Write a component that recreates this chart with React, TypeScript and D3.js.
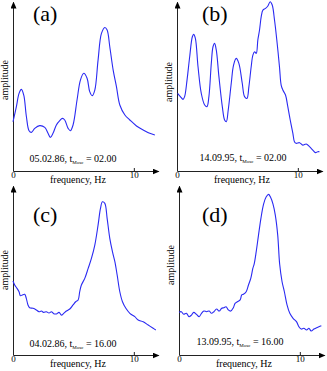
import React, { useEffect, useRef } from "react";
import * as d3 from "d3";

const panelLetters = ["(a)", "(b)", "(c)", "(d)"];
const dates = ["05.02.86", "14.09.95", "04.02.86", "13.09.95"];
const times = ["02.00", "02.00", "16.00", "16.00"];
const xTicks = [0, 10];

const freqA = [0, 0.28, 0.5, 0.69, 0.89, 1.11, 1.33, 1.52, 1.8, 2.21, 2.63, 2.9, 3.09, 3.31, 3.59, 3.87, 4.09, 4.28, 4.56, 4.75, 4.97, 5.3, 5.58, 5.86, 6.13, 6.35, 6.55, 6.77, 7.04, 7.32, 7.6, 7.79, 8.01, 8.29, 8.56, 8.84, 9.26, 9.67, 10.22, 10.77, 11.32, 11.74];
const ampA = [30.6, 40, 48.2, 50.7, 47.2, 33.7, 25, 24, 26.5, 28.2, 27.1, 23.4, 20.9, 23.4, 28.6, 31.3, 32.7, 31.7, 26.5, 25, 28.6, 44.1, 56.5, 60.7, 57.6, 49.3, 46.8, 50.3, 68.9, 85.5, 89.2, 87.6, 77.2, 62.7, 52.4, 41, 34.8, 31.7, 28, 25.5, 23.4, 22.4];

const freqB = [0.05, 0.28, 0.5, 0.63, 0.83, 1.05, 1.27, 1.38, 1.52, 1.74, 2.01, 2.29, 2.48, 2.64, 2.84, 2.98, 3.11, 3.25, 3.47, 3.75, 3.94, 4.08, 4.24, 4.49, 4.68, 4.9, 5.12, 5.4, 5.59, 5.79, 5.95, 6.14, 6.28, 6.42, 6.56, 6.69, 6.83, 6.97, 7.11, 7.33, 7.52, 7.71, 7.88, 8.07, 8.26, 8.48, 8.62, 8.76, 8.98, 9.17, 9.37, 9.59, 9.72, 9.86, 10.14, 10.41, 10.69, 10.96, 11.24, 11.46, 11.65, 11.79];
const ampB = [48.2, 46.2, 44.5, 46.2, 56.5, 71, 83.4, 84.9, 82.4, 64.8, 48.2, 41, 40, 46.2, 66.9, 77.2, 79.3, 75.2, 58.6, 40, 31.7, 30.6, 37.9, 54.5, 65.8, 70, 66.9, 54.5, 46.2, 45.1, 52.4, 64.8, 72, 74.1, 73.1, 81.4, 87.6, 95.9, 100, 101, 102.5, 105.2, 103.1, 93.8, 81.4, 64.8, 53.4, 50.3, 47.2, 40, 31.7, 23.4, 18.2, 17.2, 17.6, 16.1, 16.8, 15.1, 13, 11.4, 12, 12];

const freqC = [0, 0.14, 0.33, 0.5, 0.61, 0.77, 0.97, 1.1, 1.24, 1.38, 1.66, 1.93, 2.15, 2.35, 2.54, 2.76, 2.98, 3.18, 3.37, 3.59, 3.81, 4.01, 4.2, 4.42, 4.7, 4.97, 5.19, 5.39, 5.52, 5.66, 5.94, 6.22, 6.49, 6.77, 7.04, 7.24, 7.4, 7.6, 7.79, 8.01, 8.23, 8.43, 8.62, 8.84, 9.06, 9.34, 9.67, 10.08, 10.36, 10.77, 11.19, 11.6, 11.82];
const ampC = [46, 43.5, 41.4, 39.3, 36.8, 37.3, 37.7, 35.2, 31.1, 29.4, 29, 28, 26.9, 27.3, 26.5, 26.9, 26.1, 26.9, 25.7, 25.5, 26.5, 24.8, 25.9, 27.3, 28.6, 31.1, 33.1, 34.2, 39.3, 43.5, 47.6, 53.8, 60, 68.3, 80.7, 91.1, 95.2, 94.2, 84.9, 72.5, 64.2, 58, 49.7, 39.3, 33.1, 29, 25.9, 23.8, 21.7, 20.7, 18.6, 16.6, 15.5];

const freqD = [0, 0.19, 0.39, 0.61, 0.83, 1.03, 1.22, 1.44, 1.67, 1.86, 2.06, 2.28, 2.5, 2.69, 2.89, 3.11, 3.33, 3.53, 3.72, 3.89, 4.08, 4.28, 4.5, 4.64, 4.83, 5.06, 5.19, 5.33, 5.56, 5.75, 5.94, 6.11, 6.22, 6.39, 6.58, 6.78, 7, 7.22, 7.42, 7.56, 7.78, 7.97, 8.17, 8.33, 8.53, 8.72, 8.94, 9.17, 9.44, 9.72, 9.92, 10.11, 10.33, 10.56, 10.75, 10.94, 11.17, 11.39, 11.58, 11.78];
const ampD = [26.5, 26.9, 25.3, 25.9, 23.8, 24.8, 26.5, 25.3, 23.8, 25.9, 27.3, 26.9, 27.3, 25.9, 26.9, 28.6, 27.3, 29, 29.4, 30, 28, 27.3, 29.4, 32.1, 33.1, 34.2, 37.3, 37.7, 39.3, 43.5, 47.6, 53.8, 56.5, 64.2, 74.5, 84.9, 93.8, 98.3, 99.8, 98.3, 93.8, 86.9, 74.5, 56.5, 45.5, 39.3, 31.1, 25.9, 22.8, 20.7, 17.6, 16.1, 16.6, 15.5, 16.6, 14.9, 16.1, 17, 17.6, 18.2];

const series = [
  [freqA, ampA],
  [freqB, ampB],
  [freqC, ampC],
  [freqD, ampD],
];

// panel placement and label spots (local coords)
const layout = [
  { dx: 0, dy: 0, lx: 33, ly: 21, ay: 80, tx: 73, ty: 162 },
  { dx: 164, dy: 0, lx: 38, ly: 21, ay: 82, tx: 79, ty: 161 },
  { dx: 0, dy: 184, lx: 33, ly: 38, ay: 86, tx: 73, ty: 163 },
  { dx: 166, dy: 184, lx: 36, ly: 38, ay: 81, tx: 74, ty: 161 },
];

const W = 327;
const H = 371;
const FONT = "Liberation Serif, Times New Roman, serif";

const App = () => {
  const svgRef = useRef<SVGSVGElement>(null);

  useEffect(() => {
    const svg = d3.select(svgRef.current);
    svg.selectAll("*").remove();

    const defs = svg.append("defs");
    defs
      .append("marker")
      .attr("id", "arr")
      .attr("markerUnits", "userSpaceOnUse")
      .attr("markerWidth", 7)
      .attr("markerHeight", 6)
      .attr("refX", 6)
      .attr("refY", 3)
      .attr("orient", "auto")
      .append("path")
      .attr("d", "M0,0L7,3L0,6Z")
      .attr("fill", "#000");

    const x = d3.scaleLinear().domain([0, 12]).range([13, 158]);
    const y = d3.scaleLinear().domain([0, 105]).range([171, 2]);

    const line = d3
      .line<number>()
      .x((d) => x(d))
      .curve(d3.curveCatmullRom.alpha(0.5));

    series.forEach(([freq, amp], i) => {
      const L = layout[i];
      const g = svg.append("g").attr("transform", `translate(${L.dx},${L.dy})`);

      const xAxis = d3
        .axisBottom(x)
        .tickValues(xTicks)
        .tickSizeInner(-3)
        .tickSizeOuter(0)
        .tickPadding(1)
        .tickFormat(d3.format("d"));
      const gx = g.append("g").attr("transform", `translate(0,${y(0)})`).call(xAxis);
      gx.attr("font-family", null).attr("font-size", null);
      gx.select(".domain").attr("marker-end", "url(#arr)").attr("stroke", "#222");
      gx.selectAll(".tick line").attr("stroke", "#222");
      gx.selectAll(".tick text").style("font-family", FONT).style("font-size", "9px").attr("fill", "#000");
      gx.selectAll(".tick").filter((d) => d === 0).select("line").remove();

      const yAxis = d3.axisLeft(y).tickValues([]).tickSizeOuter(0);
      const gy = g.append("g").attr("transform", `translate(${x(0)},0)`).call(yAxis);
      gy.select(".domain").attr("marker-end", "url(#arr)").attr("stroke", "#222");

      g.append("path")
        .datum(freq)
        .attr("fill", "none")
        .attr("stroke", "#2a2af2")
        .attr("stroke-width", 1.1)
        .attr("d", line.y((_, k) => y(amp[k])));

      g.append("text")
        .attr("x", L.lx)
        .attr("y", L.ly)
        .style("font-family", FONT)
        .style("font-size", "22px")
        .text(panelLetters[i]);

      g.append("text")
        .attr("transform", `translate(7.5,${L.ay}) rotate(-90)`)
        .attr("text-anchor", "middle")
        .style("font-family", FONT)
        .style("font-size", "10px")
        .text("amplitude");

      g.append("text")
        .attr("x", 78)
        .attr("y", 183)
        .attr("text-anchor", "middle")
        .style("font-family", FONT)
        .style("font-size", "10px")
        .text("frequency, Hz");

      const t = g
        .append("text")
        .attr("x", L.tx)
        .attr("y", L.ty)
        .attr("text-anchor", "middle")
        .style("font-family", FONT)
        .style("font-size", "10px");
      t.append("tspan").text(`${dates[i]}, t`);
      t.append("tspan").style("font-size", "5px").attr("dy", 2).text("Mosc");
      t.append("tspan").attr("dy", -2).text(` = ${times[i]}`);
    });
  }, []);

  return (
    <svg
      ref={svgRef}
      width={W}
      height={H}
      style={{ position: "absolute", left: 0, top: 0, background: "#fff" }}
    />
  );
};

export default App;
